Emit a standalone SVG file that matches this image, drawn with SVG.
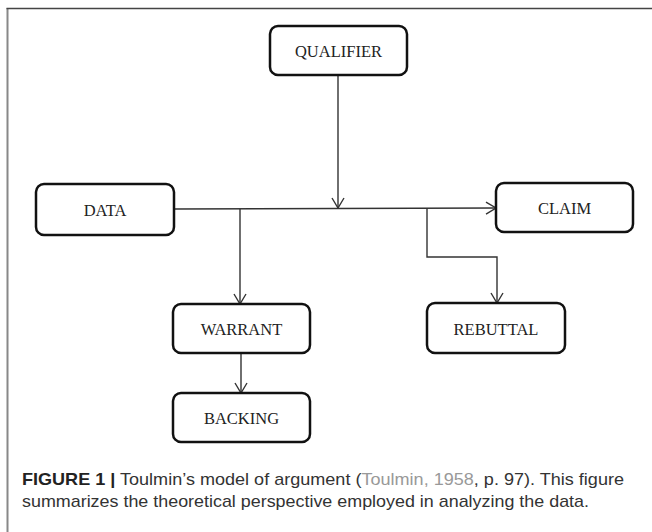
<svg xmlns="http://www.w3.org/2000/svg" width="652" height="532" viewBox="0 0 652 532">
<style>
.box{fill:#fff;stroke:#111;stroke-width:2.5}
.lbl{font-family:"Liberation Serif","Times New Roman",serif;font-size:16.5px;fill:#222;text-anchor:middle;dominant-baseline:central}
.con{fill:none;stroke:#333;stroke-width:1.4}
.cap{font-family:"Liberation Sans",Arial,sans-serif;font-size:17px;fill:#333}
</style>
<defs>
<marker id="arr" markerUnits="userSpaceOnUse" markerWidth="12" markerHeight="14" viewBox="0 0 12 14" refX="11" refY="7" orient="auto">
<path d="M1,1 L11,7 L1,13" fill="none" stroke="#333" stroke-width="1.4"/>
</marker>
</defs>
<rect width="652" height="532" fill="#fff"/>
<line x1="7.5" y1="8" x2="7.5" y2="532" stroke="#888" stroke-width="2"/>
<line x1="6.5" y1="8.5" x2="652" y2="8.5" stroke="#444" stroke-width="1.5"/>
<g id="connectors">
<line class="con" x1="174" y1="209" x2="496" y2="208" marker-end="url(#arr)"/>
<line class="con" x1="338" y1="75" x2="338" y2="208" marker-end="url(#arr)"/>
<line class="con" x1="240" y1="209" x2="240" y2="304" marker-end="url(#arr)"/>
<polyline class="con" points="427,208 427,257 497,257 497,303" marker-end="url(#arr)"/>
<line class="con" x1="241" y1="353" x2="241" y2="393" marker-end="url(#arr)"/>
</g>
<g id="qualifier"><rect class="box" x="270" y="26" width="137" height="49" rx="8"/><text class="lbl" x="338.5" y="51">QUALIFIER</text></g>
<g id="data"><rect class="box" x="36" y="184" width="138" height="51" rx="8"/><text class="lbl" x="105" y="210">DATA</text></g>
<g id="claim"><rect class="box" x="496" y="183" width="137" height="49" rx="8"/><text class="lbl" x="564.5" y="208">CLAIM</text></g>
<g id="warrant"><rect class="box" x="173" y="304" width="137" height="49" rx="8"/><text class="lbl" x="241.5" y="329">WARRANT</text></g>
<g id="rebuttal"><rect class="box" x="427" y="303" width="138" height="50" rx="8"/><text class="lbl" x="496" y="329">REBUTTAL</text></g>
<g id="backing"><rect class="box" x="173" y="393" width="137" height="49" rx="8"/><text class="lbl" x="241.5" y="418">BACKING</text></g>
<text class="cap" x="22" y="485" textLength="602" lengthAdjust="spacingAndGlyphs"><tspan font-weight="bold" fill="#222">FIGURE 1 |</tspan> Toulmin’s model of argument (<tspan fill="#999">Toulmin, 1958</tspan>, p. 97). This figure</text>
<text class="cap" x="22" y="507" textLength="567" lengthAdjust="spacingAndGlyphs">summarizes the theoretical perspective employed in analyzing the data.</text>
</svg>
